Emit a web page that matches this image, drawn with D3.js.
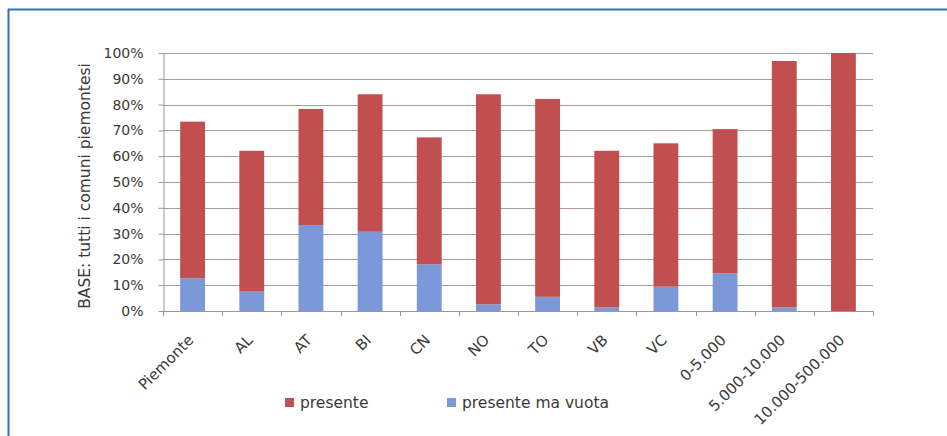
<!DOCTYPE html>
<html>
<head>
<meta charset="utf-8">
<script src="https://cdn.jsdelivr.net/npm/d3@7"></script>
<style>
html,body{margin:0;padding:0;background:#fff;}
svg{display:block;}
text{font-family:"DejaVu Sans","Liberation Sans",sans-serif;fill:#3a3a3a;}
</style>
</head>
<body>
<svg id="c" width="947" height="436"></svg>
<script>
const categories = ["Piemonte","AL","AT","BI","CN","NO","TO","VB","VC","0-5.000","5.000-10.000","10.000-500.000"];
const vuota = [12.7, 7.5, 33.3, 30.7, 18.1, 2.6, 5.5, 1.4, 9.4, 14.6, 1.4, 0];
const presente = [60.7, 54.6, 45.0, 53.3, 49.2, 81.4, 76.7, 60.7, 55.6, 55.9, 95.5, 100];
const seriesNames = ["presente ma vuota", "presente"];
const yTicks = [0,10,20,30,40,50,60,70,80,90,100];
const yTitle = "BASE: tutti i comuni piemontesi";
const colors = {"presente ma vuota":"#7b98d8", "presente":"#c24f4f"};

const svg = d3.select("#c");
// frame
svg.append("line").attr("x1",8).attr("x2",947).attr("y1",9.5).attr("y2",9.5).attr("stroke","#2e75b6").attr("stroke-width",2);
svg.append("line").attr("x1",8.5).attr("x2",8.5).attr("y1",9).attr("y2",436).attr("stroke","#2e75b6").attr("stroke-width",2);

const m = {left:163, right:873, top:53, bottom:311};
const x = d3.scaleBand().domain(categories).range([m.left, m.right]).paddingInner(0.58).paddingOuter(0.29);
const y = d3.scaleLinear().domain([0,100]).range([m.bottom, m.top]);

// gridlines
svg.append("g").selectAll("line").data(yTicks.filter(d=>d>0)).join("line")
  .attr("x1",m.left).attr("x2",m.right)
  .attr("y1",d=>Math.round(y(d))+0.5).attr("y2",d=>Math.round(y(d))+0.5)
  .attr("stroke","#a89a9a").attr("stroke-width",1);

// stacked bars
const rows = categories.map((c,i)=>({cat:c, "presente ma vuota":vuota[i], "presente":presente[i]}));
const stack = d3.stack().keys(seriesNames)(rows);
svg.append("g").selectAll("g").data(stack).join("g")
  .attr("fill",d=>colors[d.key])
  .selectAll("rect").data(d=>d).join("rect")
  .attr("x",d=>x(d.data.cat)).attr("width",x.bandwidth())
  .attr("y",d=>y(d[1])).attr("height",d=>y(d[0])-y(d[1]));

// y axis
const yAxis = d3.axisLeft(y).tickValues(yTicks).tickFormat(d=>d+"%").tickSize(5).tickSizeOuter(0);
const gy = svg.append("g").attr("transform",`translate(${m.left+0.5},0)`).call(yAxis);
gy.select(".domain").attr("stroke","#a09494");
gy.selectAll(".tick line").attr("stroke","#a09494");
gy.selectAll(".tick text").attr("x",-20).style("font-size","14px").style("font-family","DejaVu Sans").style("fill","#3a3a3a");

// x axis
const bounds = d3.range(categories.length+1).map(i=>m.left + i*(m.right-m.left)/categories.length);
const gx = svg.append("g");
gx.append("line").attr("x1",m.left).attr("x2",m.right).attr("y1",m.bottom+0.5).attr("y2",m.bottom+0.5).attr("stroke","#a09494");
gx.selectAll("line.t").data(bounds).join("line").attr("class","t")
  .attr("x1",d=>Math.round(d)+0.5).attr("x2",d=>Math.round(d)+0.5)
  .attr("y1",m.bottom).attr("y2",m.bottom+5).attr("stroke","#a09494");
gx.selectAll("text").data(categories).join("text")
  .attr("transform",d=>`translate(${x(d)+x.bandwidth()/2+2},${m.bottom+30}) rotate(-45)`)
  .attr("text-anchor","end")
  .style("font-size","15px")
  .text(d=>d);

// y title
svg.append("text")
  .attr("transform",`translate(90,${(m.top+m.bottom)/2+4}) rotate(-90)`)
  .attr("text-anchor","middle")
  .style("font-size","15.5px")
  .text(yTitle);

// legend
const legendItems = [{name:"presente", x:285}, {name:"presente ma vuota", x:447}];
const lg = svg.append("g").selectAll("g").data(legendItems).join("g")
  .attr("transform",d=>`translate(${d.x},398)`);
lg.append("rect").attr("width",9).attr("height",9).attr("fill",d=>colors[d.name]);
lg.append("text").attr("x",15).attr("y",10).style("font-size","15.5px").text(d=>d.name);
</script>
</body>
</html>
